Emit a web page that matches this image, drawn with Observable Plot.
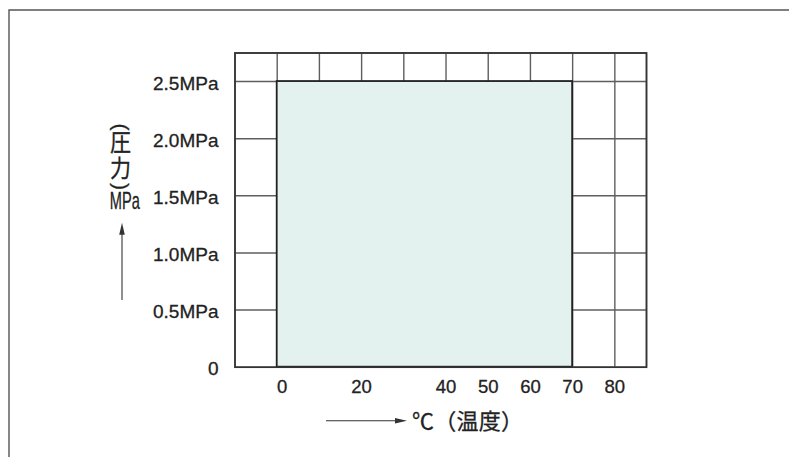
<!DOCTYPE html>
<html><head><meta charset="utf-8">
<script src="https://cdn.jsdelivr.net/npm/d3@7"></script>
<script src="https://cdn.jsdelivr.net/npm/@observablehq/plot@0.6"></script>
<style>body{margin:0;background:#fff}#chart svg{display:block;text-spacing-trim:space-all}</style>
</head><body><div id="chart"></div>
<script>
// ---- data ----
const tempRange = [0, 70];          // °C
const pressureRange = [0, 2.5];     // MPa
const xDomain = [-10, 87.5];
const yDomain = [0, 2.75];
const xGridLines = [-10, 0, 10, 20, 30, 40, 50, 60, 70, 80, 87.5];
const yGridLines = [0, 0.5, 1, 1.5, 2, 2.5, 2.75];
const xTickValues = [0, 20, 40, 50, 60, 70, 80];
const yTickValues = [0, 0.5, 1, 1.5, 2, 2.5];
const yTickLabels = ["0", "0.5MPa", "1.0MPa", "1.5MPa", "2.0MPa", "2.5MPa"];
const xAxisTitle = "℃（温度）";
const yAxisTitleChars = ["圧", "力"];
const yAxisParens = ["(", ")"];
const yAxisUnit = "MPa";

const W = 789, H = 457;
const mL = 234.5, mR = 143, mT = 52.5, mB = 90.3;
const LATIN = "'Liberation Sans', Arial, Helvetica, sans-serif";
const CJK = "'Noto Sans CJK JP', 'Noto Sans CJK SC', sans-serif";
const ink = "#222";

const rangeRect = [{x1: tempRange[0], x2: tempRange[1], y1: pressureRange[0], y2: pressureRange[1]}];

const charDy = [90.5, 116.5];
const parenDy = [74, 133.5];

const chart = Plot.plot({
  width: W, height: H,
  marginLeft: mL, marginRight: mR, marginTop: mT, marginBottom: mB,
  style: {fontFamily: LATIN, color: ink, background: "#fff", overflow: "visible"},
  x: {domain: xDomain, axis: null},
  y: {domain: yDomain, axis: null},
  marks: [
    Plot.ruleX(xGridLines, {y1: yDomain[0], y2: yDomain[1], stroke: "#5e5e5e", strokeWidth: 1.4}),
    Plot.ruleY(yGridLines, {x1: xDomain[0], x2: xDomain[1], stroke: "#5e5e5e", strokeWidth: 1.4}),
    Plot.rect(rangeRect, {x1: "x1", x2: "x2", y1: "y1", y2: "y2", fill: "#e3f2ef", stroke: ink, strokeWidth: 1.8}),
    Plot.frame({stroke: "#333", strokeWidth: 1.7}),
    Plot.axisY(yTickValues, {tickSize: 0, tickPadding: 16.5, dy: 2, fontSize: 19, label: null,
      tickFormat: d => yTickLabels[yTickValues.indexOf(d)]}),
    Plot.axisX(xTickValues.filter(d => d === 0), {tickSize: 0, tickPadding: 13, dx: 5, fontSize: 18.5, label: null}),
    Plot.axisX(xTickValues.filter(d => d !== 0), {tickSize: 0, tickPadding: 13, fontSize: 18.5, label: null}),
    Plot.text([xAxisTitle], {text: d => d, frameAnchor: "bottom-left", dx: 232.5, dy: 55,
      fontSize: 22, fontFamily: CJK, fill: ink, textAnchor: "middle", lineAnchor: "middle"}),
    ...yAxisTitleChars.map((c, i) => Plot.text([c], {text: d => d, frameAnchor: "top-left",
      dx: -114.5, dy: charDy[i], fontSize: 24, fontFamily: CJK, fill: ink, textAnchor: "middle", lineAnchor: "middle"})),
    ...yAxisParens.map((c, i) => Plot.text([c], {text: d => d, frameAnchor: "top-left", rotate: 90,
      dx: -114.5, dy: parenDy[i], fontSize: 21, fill: ink, textAnchor: "middle", lineAnchor: "middle"})),
    Plot.text([yAxisUnit], {text: d => d, frameAnchor: "top-left", dx: -110.2, dy: 148.8,
      fontSize: 24, fill: ink, textAnchor: "middle", lineAnchor: "middle"})
  ]
});
document.getElementById("chart").appendChild(chart);

const svg = d3.select(chart);
// slightly heavier text like the reference
svg.selectAll("text").attr("stroke", ink).attr("stroke-width", 0.3);
// condense the unit label
svg.selectAll("text").filter(function () { return this.textContent === yAxisUnit; })
  .attr("textLength", 30).attr("lengthAdjust", "spacingAndGlyphs");
// condense the vertical CJK chars slightly
svg.selectAll("text").filter(function () { return yAxisTitleChars.includes(this.textContent); })
  .attr("textLength", 21).attr("lengthAdjust", "spacingAndGlyphs");
// keep the full-width spacing of the x title
svg.selectAll("text").filter(function () { return this.textContent === xAxisTitle; })
  .attr("textLength", 111).attr("lengthAdjust", "spacing");

// decorations: outer border and axis arrows
const deco = svg.append("g");
deco.append("path").attr("d", `M9,${H} V10 H${W}`).attr("fill", "none").attr("stroke", "#555").attr("stroke-width", 1.4);
const ax = {y: H - mB + 54, x1: mL + 91.5, x2: mL + 172.5};
deco.append("line").attr("x1", ax.x1).attr("x2", ax.x2 - 10).attr("y1", ax.y).attr("y2", ax.y).attr("stroke", "#333").attr("stroke-width", 1.1);
deco.append("path").attr("d", `M${ax.x2},${ax.y} L${ax.x2 - 12},${ax.y - 2.8} L${ax.x2 - 12},${ax.y + 2.8} Z`).attr("fill", "#333");
const ay = {x: mL - 112.5, y1: 300, y2: 222.7};
deco.append("line").attr("x1", ay.x).attr("x2", ay.x).attr("y1", ay.y1).attr("y2", ay.y2 + 10).attr("stroke", "#333").attr("stroke-width", 1.1);
deco.append("path").attr("d", `M${ay.x},${ay.y2} L${ay.x - 2.8},${ay.y2 + 12} L${ay.x + 2.8},${ay.y2 + 12} Z`).attr("fill", "#333");
</script>
</body></html>
